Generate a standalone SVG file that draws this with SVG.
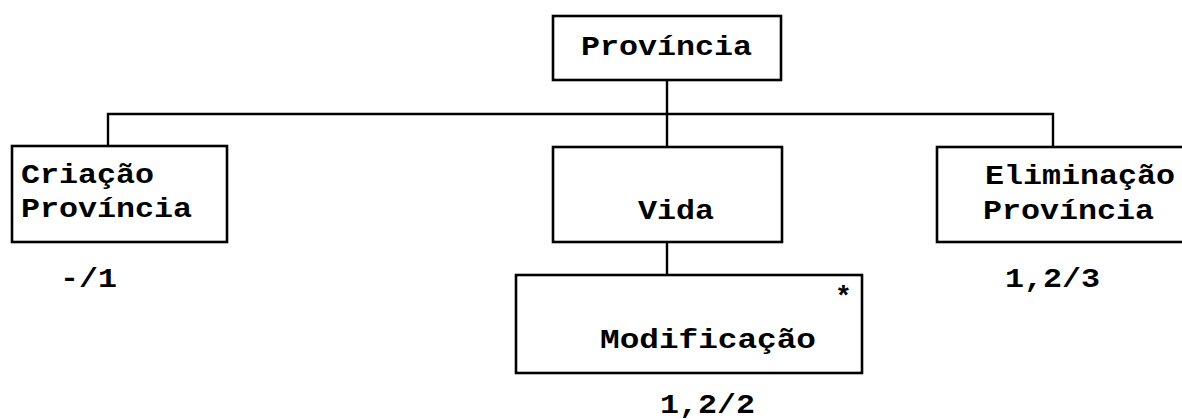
<svg xmlns="http://www.w3.org/2000/svg" width="1182" height="419" viewBox="0 0 1182 419">
<style>
.box{fill:#fff;stroke:#000;stroke-width:2.6}
.ln{fill:none;stroke:#000;stroke-width:2.4}
text{font-family:"Liberation Mono","Courier New",monospace;font-size:28px;font-weight:bold;fill:#000}
</style>
<rect width="1182" height="419" fill="#fff"/>
<g id="connectors">
<path class="ln" d="M667 80V147M108 146V114H1053V147M667 242V275"/>
</g>
<g id="provincia">
<rect class="box" x="553" y="16" width="228" height="64"/>
<text x="581" y="55" textLength="171" lengthAdjust="spacingAndGlyphs">Província</text>
</g>
<g id="criacao">
<rect class="box" x="12" y="146" width="215" height="96"/>
<text x="21" y="183" textLength="133" lengthAdjust="spacingAndGlyphs">Criação</text>
<text x="21" y="217" textLength="171" lengthAdjust="spacingAndGlyphs">Província</text>
<text x="60" y="287" textLength="57" lengthAdjust="spacingAndGlyphs">-/1</text>
</g>
<g id="vida">
<rect class="box" x="553" y="147" width="229" height="95"/>
<text x="638" y="219" textLength="76" lengthAdjust="spacingAndGlyphs">Vida</text>
</g>
<g id="eliminacao">
<rect class="box" x="937" y="147" width="250" height="95"/>
<text x="985" y="184" textLength="190" lengthAdjust="spacingAndGlyphs">Eliminação</text>
<text x="983" y="219" textLength="171" lengthAdjust="spacingAndGlyphs">Província</text>
<text x="1005" y="287" textLength="95" lengthAdjust="spacingAndGlyphs">1,2/3</text>
</g>
<g id="modificacao">
<rect class="box" x="516" y="275" width="346" height="98"/>
<text x="600" y="348" textLength="216" lengthAdjust="spacingAndGlyphs">Modificação</text>
<text x="835" y="305">*</text>
<text x="660" y="413" textLength="95" lengthAdjust="spacingAndGlyphs">1,2/2</text>
</g>
</svg>
